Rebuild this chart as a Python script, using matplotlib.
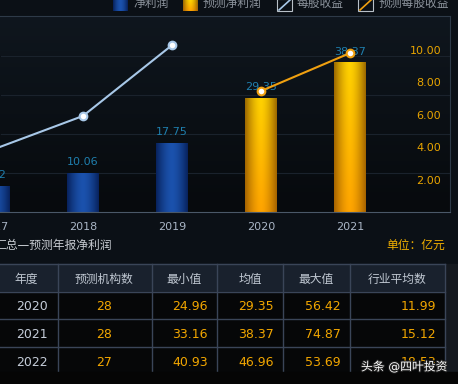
import numpy as np
import matplotlib
matplotlib.use('Agg')
import matplotlib.pyplot as plt
from matplotlib.patches import Rectangle
import matplotlib.patheffects as pe

plt.rcParams['font.family'] = ['DejaVu Sans', 'Noto Sans CJK SC']

# chart data (profit in 亿元, eps in 元)
years = [2017, 2018, 2019, 2020, 2021]
profit_actual = [6.72, 10.06, 17.75]
profit_fcst = [29.35, 38.37]
eps_actual = [3.88, 5.93, 10.30]
eps_fcst = [7.47, 9.81]
eps_ticks = [2, 4, 6, 8, 10]

# table data
tbl_header = ['年度', '预测机构数', '最小值', '均值', '最大值', '行业平均数']
tbl_years = ['2020', '2021', '2022']
tbl_count = ['28', '28', '27']
tbl_min = ['24.96', '33.16', '40.93']
tbl_mean = ['29.35', '38.37', '46.96']
tbl_max = ['56.42', '74.87', '53.69']
tbl_avg = ['11.99', '15.12', '18.53']

W, H = 458, 384
fig = plt.figure(figsize=(W / 100, H / 100), dpi=100)
fig.patch.set_facecolor('#0b1016')

# pixel overlay for backgrounds, legend and table
ov = fig.add_axes([0, 0, 1, 1], zorder=0)
ov.set_xlim(0, W)
ov.set_ylim(H, 0)
ov.axis('off')


def hgrad(edge, mid, n=40, power=1.6):
    u = np.linspace(0, 1, n)
    t = 1 - np.abs(2 * u - 1) ** power
    edge = np.array(matplotlib.colors.to_rgb(edge))
    mid = np.array(matplotlib.colors.to_rgb(mid))
    return edge[None, :] + (mid - edge)[None, :] * t[:, None]


def bar_img(kind, n=40, m=60):
    if kind == 'blue':
        row = hgrad('#08235e', '#1b52ad', n)
        return np.repeat(row[None, :, :], m, axis=0)
    top = hgrad('#9c6a00', '#ffd200', n)
    bot = hgrad('#a86400', '#ffa400', n)
    v = np.linspace(0, 1, m)[:, None, None]
    return np.clip(top[None] * (1 - v) + bot[None] * v, 0, 1)


# legend
ov.imshow(bar_img('blue', 20, 10), extent=(113, 128, 11, 0), aspect='auto', zorder=2)
ov.imshow(bar_img('gold', 20, 10), extent=(183, 198, 11, 0), aspect='auto', zorder=2)
for x0, c in [(277, '#a8c8e8'), (358, '#f0a010')]:
    ov.add_patch(Rectangle((x0, -1), 15, 12, fill=False, ec='#b8c0c8', lw=0.8, zorder=2))
    ov.plot([x0 + 2, x0 + 13], [10, 0], color=c, lw=1.2, zorder=3)
leg_txt = [(133, '净利润'), (203, '预测净利润'), (297, '每股收益'), (379, '预测每股收益')]
for x0, s in leg_txt:
    ov.text(x0, 3.5, s, color='#8c939c', fontsize=8.5, ha='left', va='center')

# table area
ov.add_patch(Rectangle((-5, 264), 450, 28, color='#19212d', zorder=1))
ov.add_patch(Rectangle((-5, 292), 450, 90, color='#060708', zorder=1))
ov.add_patch(Rectangle((445, 264), 20, 120, color='#15191f', zorder=1))
ov.add_patch(Rectangle((-5, 372), 470, 20, color='#050505', zorder=5))
grid_c = '#3a4558'
for yv in [264, 292, 319, 347]:
    ov.plot([-5, 445], [yv, yv], color=grid_c, lw=1, zorder=2)
for xv in [58, 152, 217, 283, 350, 445]:
    ov.plot([xv, xv], [264, 372], color=grid_c, lw=1, zorder=2)

head_x = [26, 104, 184, 250, 316, 397]
for xv, s in zip(head_x, tbl_header):
    ov.text(xv, 279, s, color='#c0c8d2', fontsize=8.5, ha='center', va='center', zorder=3)

row_y = [306, 334, 362]
orange = '#f2a600'
for i, yv in enumerate(row_y):
    ov.text(48, yv, tbl_years[i], color='#c4ccd8', fontsize=9, ha='right', va='center', zorder=3)
    ov.text(104, yv, tbl_count[i], color=orange, fontsize=9, ha='center', va='center', zorder=3)
    ov.text(208, yv, tbl_min[i], color=orange, fontsize=9, ha='right', va='center', zorder=3)
    ov.text(274, yv, tbl_mean[i], color=orange, fontsize=9, ha='right', va='center', zorder=3)
    ov.text(341, yv, tbl_max[i], color=orange, fontsize=9, ha='right', va='center', zorder=3)
    ov.text(436, yv, tbl_avg[i], color=orange, fontsize=9, ha='right', va='center', zorder=3)

ov.text(-6, 245, '汇总—预测年报净利润', color='#c8ccd2', fontsize=8.5, ha='left', va='center')
ov.text(445, 245, '单位：亿元', color='#f2b000', fontsize=8.5, ha='right', va='center')
ov.text(445, 28, '单位：元', color='#8c939c', fontsize=8.5, ha='right', va='center')
ov.text(447, 367, '头条 @四叶投资', color='white', fontsize=8.5, ha='right', va='center', zorder=6,
        path_effects=[pe.withStroke(linewidth=1.5, foreground='#202020')])
ov.set_xlim(0, W)
ov.set_ylim(H, 0)

# main chart
ax = fig.add_axes([0, 172 / H, 450 / W, 196 / H], zorder=1)
ax.set_facecolor('none')
bg = np.linspace(0, 1, 50)[:, None, None]
top_c = np.array(matplotlib.colors.to_rgb('#0f161e'))
bot_c = np.array(matplotlib.colors.to_rgb('#070a0d'))
ax.imshow(top_c * (1 - bg) + bot_c * bg, extent=(0, 1, 0, 1), transform=ax.transAxes,
          aspect='auto', zorder=0)

bw = 0.354
b1 = ax.bar(years[:3], profit_actual, width=bw, color='#1b52ad', zorder=2)
b2 = ax.bar(years[3:], profit_fcst, width=bw, color='#ffc000', zorder=2)
for bars, kind in [(b1, 'blue'), (b2, 'gold')]:
    for p in bars:
        x0, w, h = p.get_x(), p.get_width(), p.get_height()
        im = ax.imshow(bar_img(kind), extent=(x0, x0 + w, 0, h), aspect='auto', zorder=3)
        im.set_clip_path(p)
for xv, v in zip(years, profit_actual + profit_fcst):
    ax.annotate(f'{v:.2f}', (xv, v), xytext=(0, 4), textcoords='offset points',
                ha='center', va='bottom', color='#1f7fae', fontsize=8, zorder=4,
                annotation_clip=False)

ax.set_yticks([10, 20, 30, 40])
ax.grid(axis='y', color='#1a222c', lw=0.8)
ax.set_axisbelow(True)
ax.tick_params(axis='y', left=False, labelleft=False)
for s in ax.spines.values():
    s.set_visible(False)

ax2 = ax.twinx()
ax2.plot(years[:3], eps_actual, color='#a8c8e8', lw=1.5, marker='o', ms=5.5,
         mfc='white', mec='#a8c8e8', mew=1.5, zorder=5)
ax2.plot(years[3:], eps_fcst, color='#f0a010', lw=1.5, marker='o', ms=5.5,
         mfc='white', mec='#f0a010', mew=1.5, zorder=5)
ax2.set_ylim(0, 12.1)
ax2.set_yticks(eps_ticks)
ax2.set_yticklabels([f'{v:.2f}' for v in eps_ticks])
ax2.tick_params(axis='y', length=0, pad=-6.5, labelcolor='#e8a400', labelsize=8)
for lbl in ax2.get_yticklabels():
    lbl.set_ha('right')
ax2.spines['left'].set_visible(False)
ax2.spines['top'].set_color('#2e3a48')
ax2.spines['right'].set_color('#2e3a48')
ax2.spines['bottom'].set_color('#4a5868')

# ticks first, limits last (set_xticks and twin plotting both widen the x range)
ax.set_xticks(years)
ax.set_xticklabels([str(y) for y in years])
ax.tick_params(axis='x', length=0, pad=7, labelcolor='#aab6c6', labelsize=8)
ax.set_xlim(2017 + 6 / 89, 2021 + 100 / 89)
ax.set_ylim(0, 50.3)
# first year sits just left of the visible range, so its tick label is drawn by hand
ax.annotate(str(years[0]), (years[0], 0), xytext=(0, -7), textcoords='offset points',
            ha='center', va='top', color='#aab6c6', fontsize=8, annotation_clip=False)

fig.savefig('out.png', dpi=100, facecolor=fig.get_facecolor())
